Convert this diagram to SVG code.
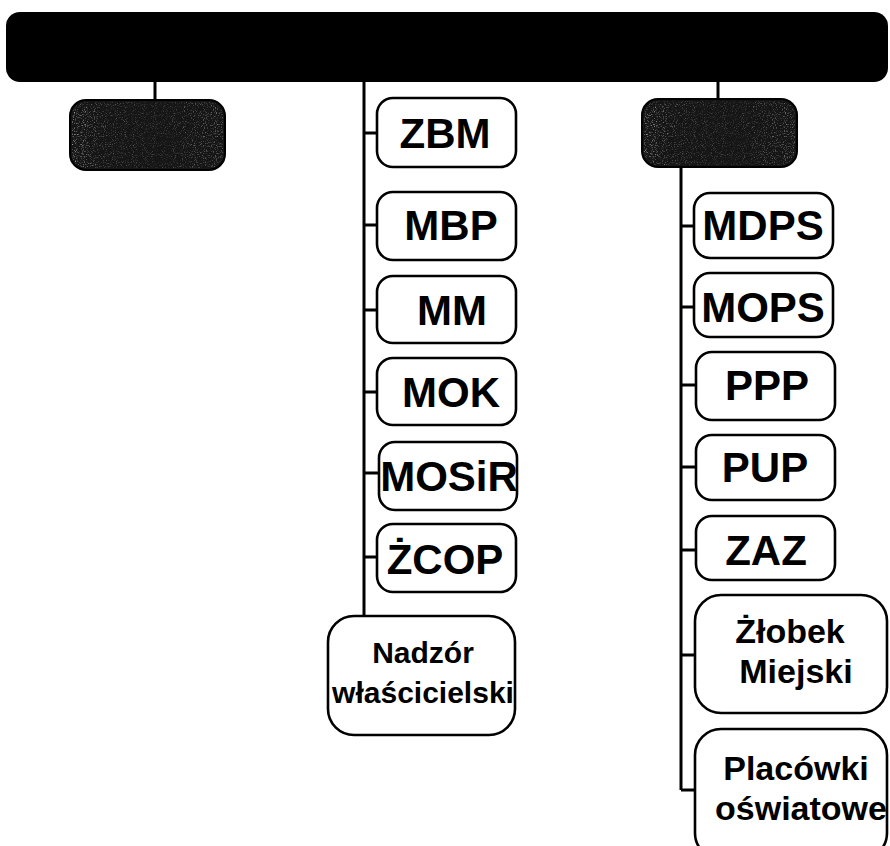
<svg xmlns="http://www.w3.org/2000/svg" width="890" height="846" viewBox="0 0 890 846">
<style>
.box{fill:#fff;stroke:#000;stroke-width:2.6}
.dark{fill:#151515;stroke:#000;stroke-width:2}
.ln{stroke:#000;stroke-width:3;fill:none}
.ab{font-family:"Liberation Sans",Arial,sans-serif;font-weight:bold;font-size:42px;text-anchor:middle;fill:#000}
.lb{font-family:"Liberation Sans",Arial,sans-serif;font-weight:bold;font-size:30px;text-anchor:middle;fill:#000}
.lr{font-family:"Liberation Sans",Arial,sans-serif;font-weight:bold;font-size:34px;text-anchor:middle;fill:#000}
</style>
<defs>
<filter id="speck" x="0" y="0" width="1" height="1">
<feTurbulence type="fractalNoise" baseFrequency="0.9" numOctaves="2" seed="3" result="n"/>
<feColorMatrix in="n" type="matrix" values="0 0 0 0 0.6  0 0 0 0 0.6  0 0 0 0 0.6  0 0 0 -3.2 1.5" result="g"/>
<feComposite in="g" in2="SourceGraphic" operator="in"/>
</filter>
<linearGradient id="edge" x1="0" y1="0" x2="1" y2="0">
<stop offset="0" stop-color="#fff" stop-opacity="1"/>
<stop offset="0.25" stop-color="#fff" stop-opacity="0.5"/>
<stop offset="0.6" stop-color="#fff" stop-opacity="0.35"/>
<stop offset="1" stop-color="#fff" stop-opacity="0.8"/>
</linearGradient>
</defs>
<rect width="890" height="846" fill="#fff"/>
<g id="connectors">
<path class="ln" d="M155 82V100"/>
<path class="ln" d="M364 82V617"/>
<path class="ln" d="M364 133H377M364 225H377M364 310H377M364 392H377M364 473H379M364 557H377"/>
<path class="ln" d="M718 82V100"/>
<path class="ln" d="M681 166V790"/>
<path class="ln" d="M681 226H694M681 307H694M681 385H696M681 467H696M681 550H696M681 655H696M681 790H696"/>
</g>
<g id="top"><rect x="6" y="12" width="882" height="70" rx="14" fill="#000"/></g>
<g id="leftDark">
<rect class="dark" x="70" y="100" width="155" height="70" rx="16"/>
<rect x="72" y="102" width="151" height="66" rx="14" fill="url(#edge)" opacity="0.75" filter="url(#speck)"/>
</g>
<g id="rightDark">
<rect class="dark" x="642" y="99" width="155" height="68" rx="16"/>
<rect x="644" y="101" width="151" height="64" rx="14" fill="url(#edge)" opacity="0.75" filter="url(#speck)"/>
</g>
<g id="ZBM"><rect class="box" x="377" y="98" width="139" height="69" rx="16"/><text class="ab" x="445" y="148">ZBM</text></g>
<g id="MBP"><rect class="box" x="377" y="192" width="139" height="68" rx="16"/><text class="ab" x="451" y="240">MBP</text></g>
<g id="MM"><rect class="box" x="377" y="276" width="139" height="67" rx="16"/><text class="ab" x="452" y="325">MM</text></g>
<g id="MOK"><rect class="box" x="377" y="358" width="139" height="67" rx="16"/><text class="ab" x="451" y="407">MOK</text></g>
<g id="MOSiR"><rect class="box" x="379" y="442" width="138" height="68" rx="16"/><text class="ab" x="449" y="491" font-size="40">MOSiR</text></g>
<g id="ZCOP"><rect class="box" x="377" y="524" width="139" height="68" rx="16"/><text class="ab" x="445" y="574" font-size="39">ŻCOP</text></g>
<g id="Nadzor"><rect class="box" x="328" y="616" width="187" height="119" rx="26"/><text class="lb" x="423" y="663">Nadzór</text><text class="lb" x="423" y="703">właścicielski</text></g>
<g id="MDPS"><rect class="box" x="694" y="193" width="139" height="65" rx="16"/><text class="ab" x="763" y="240" font-size="44">MDPS</text></g>
<g id="MOPS"><rect class="box" x="694" y="273" width="139" height="64" rx="16"/><text class="ab" x="763" y="322" font-size="44">MOPS</text></g>
<g id="PPP"><rect class="box" x="696" y="352" width="139" height="68" rx="16"/><text class="ab" x="767" y="400">PPP</text></g>
<g id="PUP"><rect class="box" x="696" y="435" width="139" height="65" rx="16"/><text class="ab" x="765" y="482">PUP</text></g>
<g id="ZAZ"><rect class="box" x="696" y="516" width="139" height="64" rx="16"/><text class="ab" x="766" y="565">ZAZ</text></g>
<g id="Zlobek"><rect class="box" x="695" y="595" width="192" height="118" rx="26"/><text class="lr" x="790" y="643">Żłobek</text><text class="lr" x="796" y="683">Miejski</text></g>
<g id="Placowki"><rect class="box" x="695" y="729" width="192" height="130" rx="26"/><text class="lr" x="796" y="780">Placówki</text><text class="lr" x="801" y="820">oświatowe</text></g>
</svg>
